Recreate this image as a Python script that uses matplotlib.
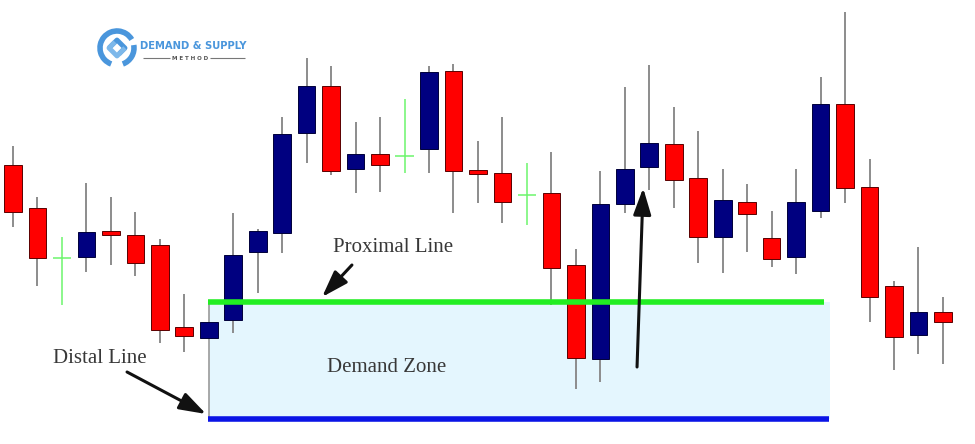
import matplotlib
matplotlib.use("Agg")
import matplotlib.pyplot as plt
from matplotlib.patches import Rectangle, Arc
import numpy as np

# candle data (price units), one entry per candle, left to right
opens = [279, 236, 186, 187, 213, 209, 199, 117, 106, 124, 192, 211, 311,
         358, 275, 290, 288, 295, 373, 274, 271, 249, 251, 179, 85, 240,
         277, 300, 266, 207, 242, 206, 187, 233, 340, 257, 158, 109, 132]
closes = [232, 186, 186, 212, 209, 181, 114, 108, 122, 189, 213, 310, 358,
          273, 290, 279, 288, 372, 273, 270, 242, 249, 176, 86, 240, 275,
          301, 264, 207, 244, 230, 185, 242, 340, 256, 147, 107, 132, 122]
highs = [298, 247, 207, 261, 247, 232, 205, 150, 122, 231, 215, 327, 386,
         378, 322, 327, 345, 378, 380, 303, 327, 281, 292, 195, 273, 357,
         379, 337, 313, 275, 260, 233, 275, 367, 432, 285, 163, 197, 147]
lows = [217, 158, 139, 172, 179, 168, 101, 92, 106, 111, 151, 191, 281,
        269, 251, 252, 271, 271, 231, 241, 221, 219, 139, 55, 62, 231,
        254, 236, 181, 171, 192, 177, 170, 226, 241, 122, 74, 90, 80]

# demand zone
zone_start, zone_end = 8, 33.4
proximal, distal = 142, 25

UP = '#000080'
DOWN = '#FF0000'
DOJI = '#6CF56C'
WICK = '#8C8C8C'

fig = plt.figure(figsize=(9.75, 4.44), dpi=100)
ax = fig.add_axes([0, 0, 1, 1])
ax.set_xlim(-0.531, 39.31)
ax.set_ylim(0, 444)
ax.axis('off')

x = np.arange(len(opens))

# zone
ax.add_patch(Rectangle((zone_start, distal), zone_end - zone_start, proximal - distal,
                       facecolor='#E4F6FE', edgecolor='none', zorder=1))
ax.vlines(zone_start, distal, proximal, color='#9A9A9A', lw=1.2, zorder=1.5)

for i in x:
    o, c, h, l = opens[i], closes[i], highs[i], lows[i]
    if o == c:
        ax.vlines(i, l, h, color=DOJI, lw=1.1, zorder=2)
        ax.hlines(o, i - 0.37, i + 0.37, color=DOJI, lw=1.1, zorder=2)
        continue
    col = UP if c > o else DOWN
    edge = '#00003A' if c > o else '#5A0000'
    ax.vlines(i, l, h, color=WICK, lw=1.4, zorder=2)
    lo = min(o, c)
    ax.bar(i, abs(c - o), bottom=lo, width=0.72, color=col,
           edgecolor=edge, linewidth=0.7, zorder=3)

ax.hlines(proximal, zone_start - 0.05, zone_end - 0.25, color='#22EE22', lw=4, zorder=4)
ax.hlines(distal, zone_start - 0.05, zone_end - 0.05, color='#0A14E6', lw=4, zorder=4)

arrow = dict(arrowstyle='-|>,head_length=0.9,head_width=0.3', color='#111111', lw=2.2,
             mutation_scale=18, shrinkA=0, shrinkB=0)
ax.annotate('', xy=(12.63, 147), xytext=(13.85, 179), arrowprops=arrow, zorder=5)
ax.annotate('', xy=(7.89, 30), xytext=(4.66, 72), arrowprops=arrow, zorder=5)
ax.annotate('', xy=(25.75, 256), xytext=(25.5, 77), arrowprops=arrow, zorder=5)

tfont = dict(family='Liberation Serif', fontsize=15, color='#383838',
             ha='center', va='center', zorder=6)
ax.text(15.53, 196, 'Proximal Line', **tfont)
ax.text(15.28, 77, 'Demand Zone', **tfont)
ax.text(3.56, 86, 'Distal Line', **tfont)

# logo
lg = fig.add_axes([95 / 975, 1 - 72 / 444, 155 / 975, 47 / 444])
lg.set_xlim(95, 250)
lg.set_ylim(72, 25)
lg.axis('off')
lblue = '#4A96DC'
lg.add_patch(Arc((117, 48), 34, 34, theta1=110, theta2=330, color=lblue, lw=4))
lg.add_patch(Arc((117, 48), 34, 34, theta1=-10, theta2=70, color=lblue, lw=4))
lg.plot([109, 117, 125, 119], [48, 40, 48, 54], color=lblue, lw=3.5, solid_capstyle='butt')
lg.plot([125, 117, 109, 115], [48, 56, 48, 42], color='#7DB8EA', lw=3.5, solid_capstyle='butt')
lg.text(193.5, 46, 'DEMAND & SUPPLY', fontsize=8, fontweight='bold', color=lblue,
        family='DejaVu Sans', fontstretch='condensed', ha='center', va='center')
lg.text(190, 58, 'M E T H O D', fontsize=4, fontweight='bold', color='#555555',
        ha='center', va='center')
lg.hlines(58, 143, 170, color='#777777', lw=0.8)
lg.hlines(58, 210, 245, color='#777777', lw=0.8)

fig.savefig('out.png', dpi=100, facecolor='white')
